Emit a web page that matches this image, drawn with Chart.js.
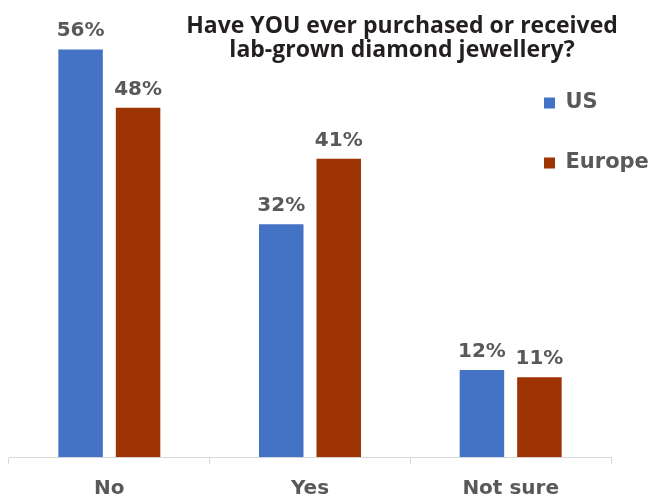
<!DOCTYPE html>
<html><head><meta charset="utf-8">
<script src="https://cdn.jsdelivr.net/npm/chart.js@4.4.0/dist/chart.umd.min.js"></script>
<style>html,body{margin:0;padding:0;background:#fff;}#wrap{width:663px;height:497px;}</style>
</head><body><div id="wrap"><canvas id="c" width="663" height="497"></canvas></div>
<script>
const categories = ['No', 'Yes', 'Not sure'];
const seriesNames = ['US', 'Europe'];
const usValues = [56, 32, 12];
const europeValues = [48, 41, 11];
const titleLines = ['Have YOU ever purchased or received', 'lab-grown diamond jewellery?'];
const seriesColors = ['#4472C4', '#9E3303'];

const valueLabels = {
  id: 'valueLabels',
  afterDatasetsDraw(chart) {
    const ctx = chart.ctx;
    ctx.save();
    ctx.font = 'bold 20px "DejaVu Sans"';
    ctx.fillStyle = '#595959';
    ctx.textAlign = 'center';
    ctx.textBaseline = 'alphabetic';
    chart.data.datasets.forEach((ds, i) => {
      chart.getDatasetMeta(i).data.forEach((bar, j) => {
        ctx.fillText(ds.data[j] + '%', bar.x, bar.y - 13);
      });
    });
    ctx.restore();
  }
};

const placeBoxes = {
  id: 'placeBoxes',
  afterLayout(chart) {
    const t = chart.titleBlock;
    if (t) { const cx = 402, half = 240; t.left = cx - half; t.right = cx + half; t.width = 2 * half; }
    const l = chart.legend;
    if (l) { const w = l.width, h = l.height; l.left = 505; l.top = 53.5; l.right = l.left + w; l.bottom = l.top + h; }
  }
};

new Chart(document.getElementById('c'), {
  type: 'bar',
  data: {
    labels: categories,
    datasets: [
      { label: seriesNames[0], data: usValues, backgroundColor: seriesColors[0], borderWidth: 0 },
      { label: seriesNames[1], data: europeValues, backgroundColor: seriesColors[1], borderWidth: 0 }
    ]
  },
  options: {
    responsive: false,
    animation: false,
    devicePixelRatio: 1,
    barPercentage: 0.774,
    categoryPercentage: 0.573,
    layout: { padding: { left: 9, right: 52, top: 0, bottom: 0 } },
    plugins: {
      title: {
        display: true,
        text: titleLines,
        color: '#231f20',
        font: { family: 'Open Sans', weight: 'bold', size: 23, lineHeight: 1.043 },
        padding: { top: 14, bottom: -41.7 }
      },
      legend: {
        display: true,
        position: 'chartArea',
        align: 'start',
        labels: {
          boxWidth: 11, boxHeight: 11, padding: 39,
          color: '#595959',
          font: { family: 'DejaVu Sans', weight: 'bold', size: 21 }
        }
      },
      tooltip: { enabled: false }
    },
    scales: {
      x: {
        afterFit(scale) { scale.height -= 15.3; },
        grid: { display: true, drawOnChartArea: false, offset: true, color: '#d9d9d9', tickLength: 7, tickColor: '#d9d9d9' },
        border: { display: true, color: '#d9d9d9', width: 1 },
        ticks: { color: '#595959', font: { family: 'DejaVu Sans', weight: 'bold', size: 20 }, padding: 12 }
      },
      y: { display: false, min: 0, max: 60 }
    }
  },
  plugins: [valueLabels, placeBoxes]
});
</script>
</body></html>
